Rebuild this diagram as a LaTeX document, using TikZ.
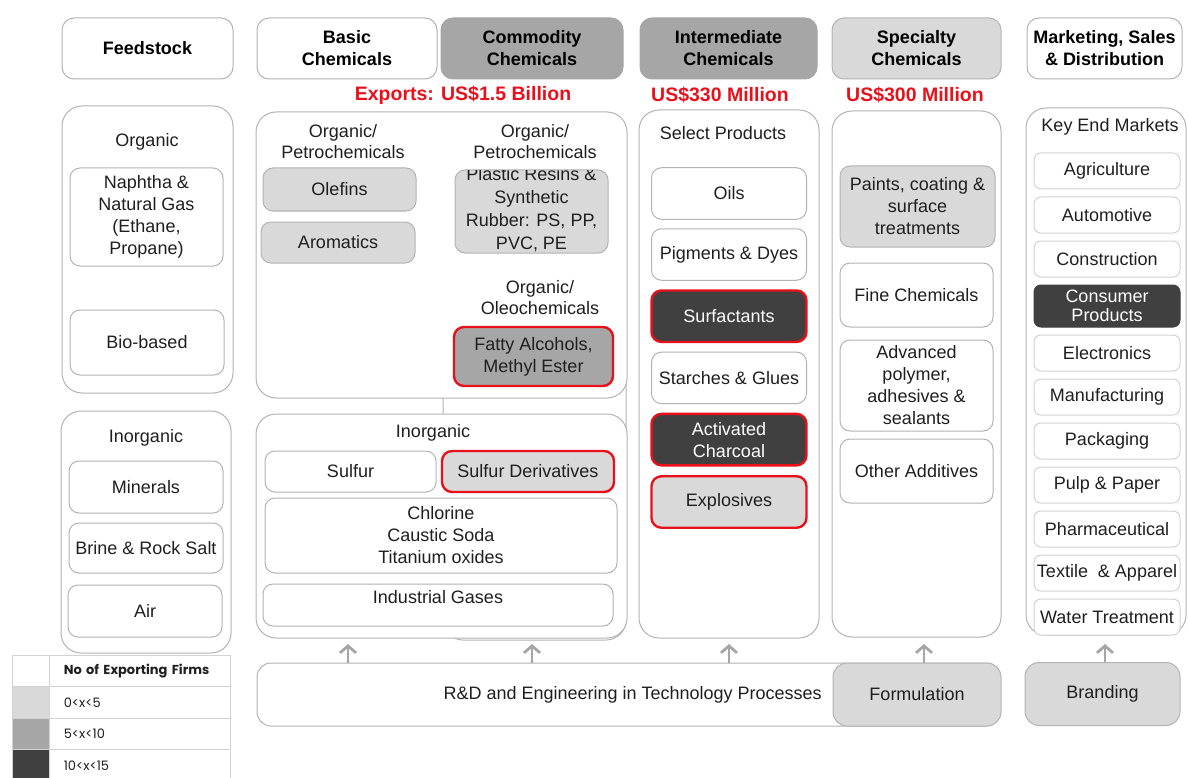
\documentclass[tikz,border=0pt]{standalone}
\usepackage{fontspec}
\setmainfont{Liberation Sans}
\newfontfamily\legendfont{Poppins}
\usetikzlibrary{arrows.meta,positioning}

\definecolor{edge}{HTML}{B3B3B3}
\definecolor{softedge}{HTML}{D3D3D3}
\definecolor{ink}{HTML}{1F1F1F}
\definecolor{greyA}{HTML}{D9D9D9}
\definecolor{greyB}{HTML}{A6A6A6}
\definecolor{greyC}{HTML}{404040}
\definecolor{hotred}{HTML}{E8111B}
\definecolor{arrowgrey}{HTML}{A6A6A6}

\begin{document}
\begin{tikzpicture}[
    x=1pt, y=-1pt,
    every node/.style={inner sep=0pt},
    sz/.style 2 args={minimum width=#1pt, minimum height=#2pt},
    frame/.style={
        rectangle,
        rounded corners=20pt,
        draw=edge,
        fill=white,
        line width=1pt
    },
    head/.style={
        rectangle,
        rounded corners=12pt,
        draw=edge,
        fill=white,
        line width=1pt,
        align=center,
        text=black,
        font=\fontsize{18}{22}\selectfont\bfseries
    },
    cell/.style={
        rectangle,
        rounded corners=10pt,
        draw=edge,
        fill=white,
        line width=1pt,
        align=center,
        text=ink,
        font=\fontsize{18}{22}\selectfont
    },
    market/.style={cell, draw=softedge, rounded corners=7pt, sz={146}{36}},
    tag/.style={align=center, text=ink, font=\fontsize{18}{21}\selectfont},
    money/.style={text=hotred, font=\fontsize{19.5}{21}\selectfont\bfseries},
    light/.style={fill=greyA},
    mid/.style={fill=greyB},
    dark/.style={fill=greyC, text=white},
    hot/.style={draw=hotred, line width=2.4pt},
    rise/.style={-{Straight Barb[length=7pt,width=16pt]}, draw=arrowgrey, line width=2.8pt},
    legcell/.style={rectangle, draw=softedge, line width=0.8pt, minimum height=31.5pt},
    legtext/.style={legcell, minimum width=181pt, text width=153pt, align=left, text=ink, font=\legendfont\fontsize{13}{14}\selectfont}
]
\useasboundingbox (0,0) rectangle (1188,778);

% column heads
\node[head, sz={171}{61}] (feed) at (147.5,48.5) {Feedstock};
\node[head, sz={180}{61}] (basic) at (347,48.5) {Basic\\Chemicals};
\node[head, mid, draw=greyB, sz={182}{61}] (commod) at (532,48.5) {Commodity\\Chemicals};
\node[head, mid, draw=greyB, sz={177}{61}] (inter) at (728.5,48.5) {Intermediate\\Chemicals};
\node[head, light, sz={169}{61}] (spec) at (916.5,48.5) {Specialty\\Chemicals};
\node[head, sz={155}{61}] (mkt) at (1104.5,48.5) {Marketing, Sales\\\& Distribution};

\node[money] (exp1) at (463,95) {Exports: US\$1.5 Billion};
\node[money] (exp2) at (720,95) {US\$330 Million};
\node[money] (exp3) at (915,95) {US\$300 Million};

% feedstock
\node[frame, sz={171}{287}] (orgF) at (147.5,249.5) {};
\node[tag] (orgFt) at (147,142) {Organic};
\node[cell, sz={153}{98}] (naphtha) at (146.5,217) {Naphtha \&\\Natural Gas\\(Ethane,\\Propane)};
\node[cell, sz={154}{65}] (bio) at (147,342.5) {Bio-based};

\node[frame, sz={170}{242}] (inorgF) at (146,532) {};
\node[tag] (inorgFt) at (146,438) {Inorganic};
\node[cell, sz={154}{52}] (minerals) at (146,487) {Minerals};
\node[cell, sz={154}{50}] (brine) at (146,548) {Brine \& Rock Salt};
\node[cell, sz={154}{52}] (air) at (145,611) {Air};

% basic and commodity
\node[frame, sz={183}{515}] (back) at (534.5,382.5) {};
\node[frame, sz={371}{286}] (orgB) at (441.5,255) {};
\node[tag] (petroL) at (343,142) {Organic/\\Petrochemicals};
\node[tag] (petroR) at (535,142) {Organic/\\Petrochemicals};
\node[tag] (oleo) at (540,298) {Organic/\\Oleochemicals};
\node[cell, light, sz={153}{43}] (olefins) at (339.5,189.5) {Olefins};
\node[cell, light, sz={154}{41}] (aromatics) at (338,242.5) {Aromatics};
\node[cell, light, sz={153}{83}] (resins) at (531.5,211.5) {};
\begin{scope}
    \clip[rounded corners=10pt] (resins.south west) rectangle (resins.north east);
    \node[tag, font=\fontsize{18}{23}\selectfont] (resinst) at ([yshift=2pt]resins.center) {Plastic Resins \&\\Synthetic\\Rubber: PS, PP,\\PVC, PE};
\end{scope}
\node[cell, mid, hot, sz={159}{59}] (fatty) at (533.5,356.5) {Fatty Alcohols,\\Methyl Ester};

\node[frame, sz={371}{224}] (inorgB) at (441.5,526) {};
\node[tag] (inorgBt) at (433,433) {Inorganic};
\node[cell, sz={171}{41}] (sulfur) at (350.5,471.5) {Sulfur};
\node[cell, light, hot, sz={172}{41}] (sulfurd) at (528,471.5) {Sulfur Derivatives};
\node[cell, sz={352}{75}] (chlor) at (441,535.5) {Chlorine\\Caustic Soda\\Titanium oxides};
\node[cell, sz={350}{42}, text depth=16pt] (gases) at (438,605) {Industrial Gases};

% intermediate
\node[frame, sz={180}{528}] (interF) at (729,374) {};
\node[tag] (select) at (723,133) {Select Products};
\node[cell, sz={155}{51.5}] (oils) at (729,193.5) {Oils};
\node[cell, sz={155}{51.5}, below=8.5pt of oils] (pigments) {Pigments \& Dyes};
\node[cell, dark, hot, sz={155}{51.5}, below=8.5pt of pigments] (surf) {Surfactants};
\node[cell, sz={155}{51.5}, below=8.5pt of surf] (starch) {Starches \& Glues};
\node[cell, dark, hot, sz={155}{51.5}, below=8.5pt of starch] (charcoal) {Activated\\Charcoal};
\node[cell, light, hot, sz={155}{51.5}, below=8.5pt of charcoal] (explo) {Explosives};

% specialty
\node[frame, sz={169}{526}] (specF) at (916.5,374) {};
\node[cell, light, sz={155}{81}] (paints) at (917.5,206.5) {Paints, coating \&\\surface\\treatments};
\node[cell, sz={153}{64}] (fine) at (916.5,295) {Fine Chemicals};
\node[cell, sz={153}{91}] (adv) at (916.5,385.5) {Advanced\\polymer,\\adhesives \&\\sealants};
\node[cell, sz={153}{64}] (other) at (916.5,471) {Other Additives};

% end markets
\node[frame, sz={160}{527}] (mktF) at (1106,371.5) {};
\node[tag] (keyend) at (1110,127) {Key End Markets};
\node[market] (m1) at (1107,171) {Agriculture};
\node[market, below=7pt of m1] (m2) {Automotive};
\node[market, below=7pt of m2] (m3) {Construction};
\node[market, dark, draw=greyC, sz={146}{42}, font=\fontsize{18}{19}\selectfont, below=7pt of m3] (m4) {Consumer\\Products};
\node[market, below=7pt of m4] (m5) {Electronics};
\node[market, below=7pt of m5] (m6) {Manufacturing};
\node[market, below=7pt of m6] (m7) {Packaging};
\node[market, below=7pt of m7] (m8) {Pulp \& Paper};
\node[market, below=7pt of m8] (m9) {Pharmaceutical};
\node[market, below=7pt of m9] (m10) {Textile\ \ \& Apparel};
\node[market, below=7pt of m10] (m11) {Water Treatment};

% support activities
\node[cell, rounded corners=14pt, sz={743}{63}] (rd) at (628.5,694.5) {};
\node[tag, anchor=east] (rdt) at (822,694.5) {R\&D and Engineering in Technology Processes};
\node[cell, light, rounded corners=14pt, sz={168}{63}] (form) at (917,694.5) {Formulation};
\node[cell, light, rounded corners=14pt, sz={155}{63}] (brand) at (1102.5,694) {Branding};

\coordinate (t1) at (348,644);
\coordinate (t2) at (532,644);
\coordinate (t3) at (729,644);
\coordinate (t4) at (924,644);
\coordinate (t5) at (1105,644);
\foreach \t in {t1,t2,t3,t4}{
    \draw[rise] (rd.north -| \t) -- (\t);
}
\draw[rise] (brand.north -| t5) -- (t5);

% legend
\node[legcell, fill=white, minimum width=37pt] (sw0) at (30.5,671) {};
\node[legcell, fill=greyA, minimum width=37pt] (sw1) at (30.5,702.5) {};
\node[legcell, fill=greyB, minimum width=37pt] (sw2) at (30.5,734) {};
\node[legcell, fill=greyC, minimum width=37pt] (sw3) at (30.5,765.5) {};
\node[legtext, font=\legendfont\bfseries\fontsize{13}{14}\selectfont, right=0pt of sw0] (lg0) {No of Exporting Firms};
\node[legtext, right=0pt of sw1] (lg1) {0<x<5};
\node[legtext, right=0pt of sw2] (lg2) {5<x<10};
\node[legtext, right=0pt of sw3] (lg3) {10<x<15};

\end{tikzpicture}
\end{document}
